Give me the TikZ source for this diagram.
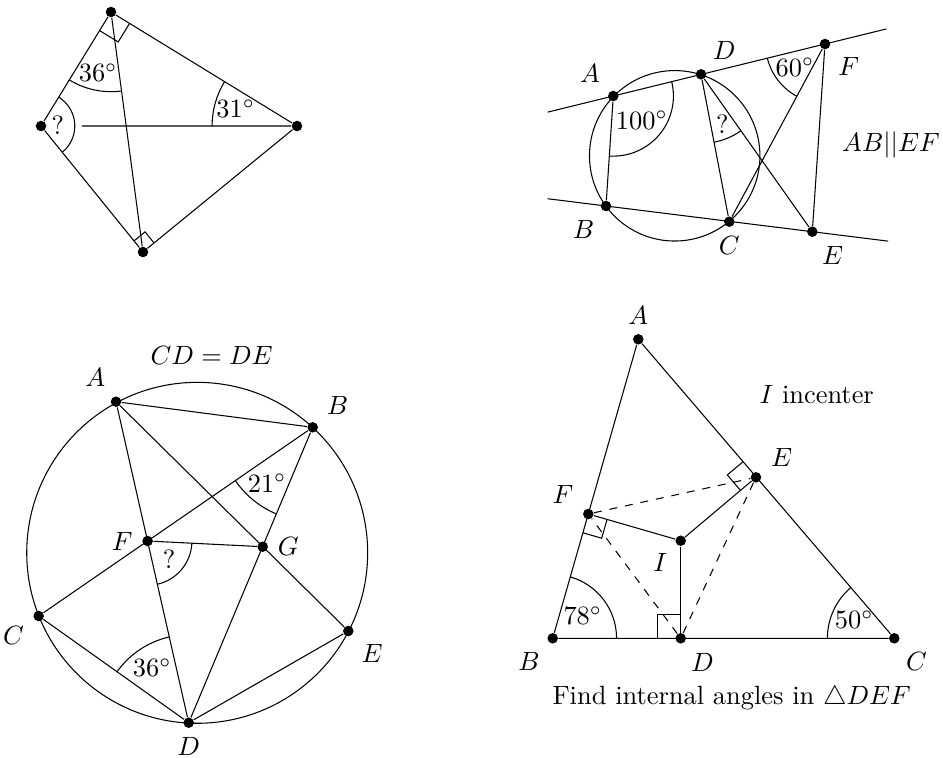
\documentclass[tikz,border=0pt]{standalone}
\usetikzlibrary{angles,quotes,calc}
\begin{document}
\begin{tikzpicture}
[x=0.0133cm, y=-0.0133cm]
\tikzstyle{vertex}=[circle, fill=black, inner sep=0mm, minimum size=1.4mm]
\tikzstyle{angarc}=[draw]
\tikzstyle{dashline}=[dashed]

\useasboundingbox (0,0) rectangle (943,757);

\node[vertex]	(Q1)	at (111,12)		{};
\node[vertex]	(Q2)	at (41,126)		{};
\node[vertex]	(Q3)	at (297,126)	{};
\node[vertex]	(Q4)	at (143,252)	{};
\coordinate		(H1)	at ($(Q2)!0.16!(Q3)$);

\draw (Q2)--(Q1)--(Q3)--(Q4)--(Q2);
\draw (Q1)--(Q4);
\draw (H1)--(Q3);
\pic[angarc, angle radius=0.29cm] {right angle=Q2--Q1--Q3};
\pic[angarc, angle radius=0.19cm] {right angle=Q3--Q4--Q2};
\pic[angarc, angle radius=1.06cm, angle eccentricity=0.78, "$36^\circ$"] {angle=Q2--Q1--Q4};
\pic[angarc, angle radius=1.13cm, angle eccentricity=0.75, "$31^\circ$"] {angle=Q1--Q3--Q2};
\pic[angarc, angle radius=0.45cm, angle eccentricity=0.5, "?"] {angle=Q4--Q2--Q1};

\node[vertex]	(A2)	at (613.3,96)		[label=above left:{$A$}]	{};
\node[vertex]	(D2)	at (701,74.3)		[label=65:{$D$}]			{};
\node[vertex]	(F2)	at (825,44)			[label=below right:{$F$}]	{};
\node[vertex]	(B2)	at (606,206)		[label=-115:{$B$}]			{};
\node[vertex]	(C2)	at (729.3,221.7)	[label=below:{$C$}]			{};
\node[vertex]	(E2)	at (812.3,231.7)	[label=-85:{$E$}]			{};
\coordinate		(O2)	at (674.7,155.8);
\coordinate		(U2a)	at ($(A2)!-0.31!(F2)$);
\coordinate		(U2b)	at ($(A2)!1.29!(F2)$);
\coordinate		(W2a)	at ($(B2)!-0.283!(E2)$);
\coordinate		(W2b)	at ($(B2)!1.368!(E2)$);
\node			(T2)	at (891,145)	{$AB||EF$};

\draw (O2) circle [radius=1.134cm];
\draw (U2a)--(U2b);
\draw (W2a)--(W2b);
\draw (A2)--(B2);
\draw (D2)--(C2)--(F2)--(E2)--(D2);
\pic[angarc, angle radius=0.8cm, angle eccentricity=0.62, "$100^\circ$"] {angle=B2--A2--D2};
\pic[angarc, angle radius=0.92cm, angle eccentricity=0.79, "?"] {angle=C2--D2--E2};
\pic[angarc, angle radius=0.79cm, angle eccentricity=0.64, "$60^\circ$"] {angle=D2--F2--C2};

\node[vertex]	(A3)	at (116,401.7)		[label=105:{$A$}]			{};
\node[vertex]	(B3)	at (312.7,427.3)	[label=35:{$B$}]			{};
\node[vertex]	(C3)	at (38.7,616)		[label=-165:{$C$}]			{};
\node[vertex]	(D3)	at (188.7,722.7)	[label=below:{$D$}]			{};
\node[vertex]	(E3)	at (348.3,631)		[label=-45:{$E$}]			{};
\node[vertex]	(F3)	at (147.6,541)		[label=left:{$F$}]			{};
\node[vertex]	(G3)	at (262.7,546.7)	[label=right:{$G$}]			{};
\coordinate		(O3)	at (197.2,552.8);
\node			(T3)	at (211.7,355)	{$CD=DE$};

\draw (O3) circle [radius=2.268cm];
\draw (A3)--(B3);
\draw (A3)--(D3);
\draw (A3)--(E3);
\draw (B3)--(C3);
\draw (B3)--(D3);
\draw (C3)--(D3)--(E3);
\draw (F3)--(G3);
\pic[angarc, angle radius=1.25cm, angle eccentricity=0.77, "$21^\circ$"] {angle=C3--B3--D3};
\pic[angarc, angle radius=0.59cm, angle eccentricity=0.63, "?"] {angle=D3--F3--G3};
\pic[angarc, angle radius=1.17cm, angle eccentricity=0.75, "$36^\circ$"] {angle=A3--D3--C3};

\node[vertex]	(A4)	at (638.3,339.3)	[label=above:{$A$}]			{};
\node[vertex]	(B4)	at (552.7,638.3)	[label=-130:{$B$}]			{};
\node[vertex]	(C4)	at (894.3,638.3)	[label=-65:{$C$}]			{};
\node[vertex]	(D4)	at (680.7,638.3)	[label=-80:{$D$}]			{};
\node[vertex]	(E4)	at (756,477.3)		[label=10:{$E$}]			{};
\node[vertex]	(F4)	at (588.3,514)		[label=165:{$F$}]			{};
\node[vertex]	(I4)	at (680.7,540.7)	[label=-140:{$I$}]			{};
\node			(T4a)	at (816.7,394.3)	{$I$ incenter};
\node			(T4b)	at (731.7,698.3)	{Find internal angles in $\triangle DEF$};

\draw (A4)--(B4)--(C4)--(A4);
\draw (F4)--(I4)--(E4);
\draw (I4)--(D4);
\draw [dashline] (F4)--(E4)--(D4)--(F4);
\pic[angarc, angle radius=0.315cm] {right angle=I4--D4--B4};
\pic[angarc, angle radius=0.27cm] {right angle=A4--E4--I4};
\pic[angarc, angle radius=0.26cm] {right angle=B4--F4--I4};
\pic[angarc, angle radius=0.85cm, angle eccentricity=0.59, "$78^\circ$"] {angle=C4--B4--A4};
\pic[angarc, angle radius=0.89cm, angle eccentricity=0.66, "$50^\circ$"] {angle=A4--C4--B4};
\end{tikzpicture}
\end{document}
